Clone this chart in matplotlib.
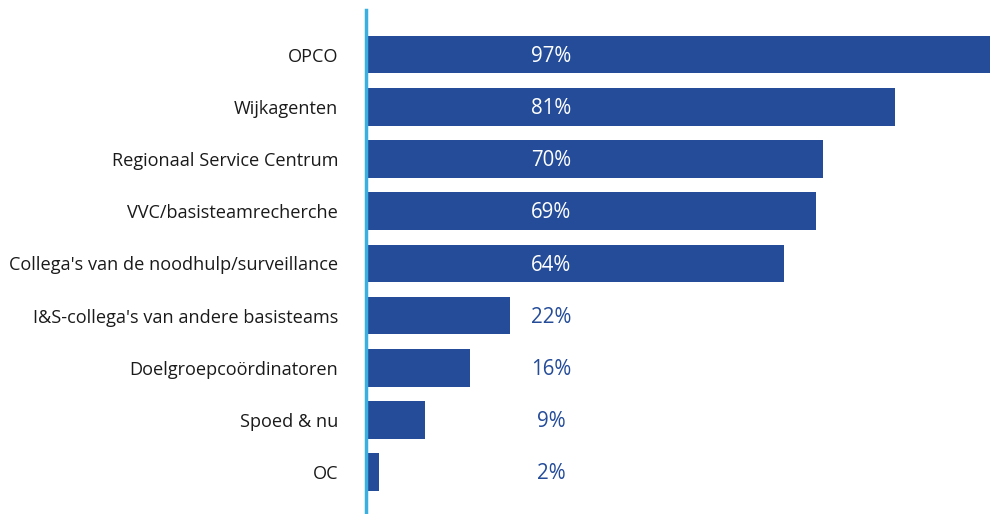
import matplotlib
matplotlib.use("Agg")
import matplotlib.pyplot as plt

categories = [
    "OPCO",
    "Wijkagenten",
    "Regionaal Service Centrum",
    "VVC/basisteamrecherche",
    "Collega's van de noodhulp/surveillance",
    "I&S-collega's van andere basisteams",
    "Doelgroepcoördinatoren",
    "Spoed & nu",
    "OC",
]
values = [97, 81, 70, 69, 64, 22, 16, 9, 2]
value_labels = ["97%", "81%", "70%", "69%", "64%", "22%", "16%", "9%", "2%"]

BAR_COLOR = "#244c99"
AXIS_COLOR = "#3aafe0"
TEXT_COLOR = "#1a1a1a"

plt.rcParams["font.family"] = ["Open Sans", "DejaVu Sans"]

fig = plt.figure(figsize=(9.9, 5.14), dpi=100)
ax = fig.add_axes([366 / 990, 0, 624 / 990, 504 / 514])

ypos = list(range(len(categories)))
ax.barh(ypos, values, height=0.72, color=BAR_COLOR, left=0)

ax.set_xlim(0, 95.6)
ax.set_ylim(8.80, -0.856)

ax.set_yticks(ypos)
ax.set_yticklabels(categories, fontsize=13.1, color=TEXT_COLOR)
ax.tick_params(axis="y", length=0, pad=20)
ax.set_xticks([])

for s in ["top", "right", "bottom"]:
    ax.spines[s].set_visible(False)
ax.spines["left"].set_color(AXIS_COLOR)
ax.spines["left"].set_linewidth(2.5)

label_x = (551 - 366) / 624
for y, v, lab in zip(ypos, values, value_labels):
    inside = v > 40
    ax.text(label_x, y + 0.03, lab, transform=ax.get_yaxis_transform(),
            ha="center", va="center", fontsize=14.8,
            color="white" if inside else BAR_COLOR)

fig.savefig("out.png", dpi=100)
